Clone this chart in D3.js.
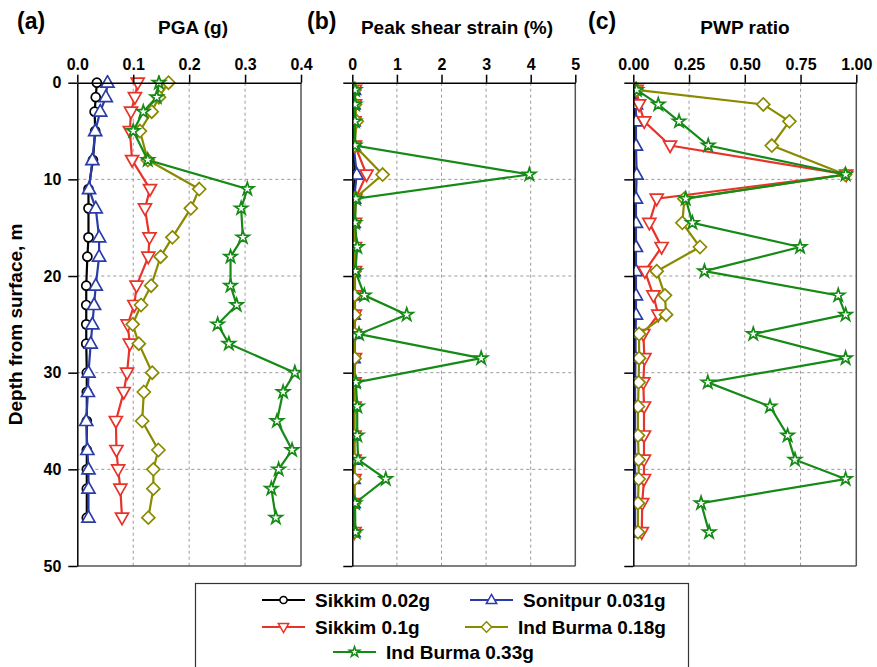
<!DOCTYPE html>
<html>
<head>
<meta charset="utf-8">
<script src="https://cdn.jsdelivr.net/npm/d3@7"></script>
<style>
body { margin: 0; background: #fff; }
text { font-family: "Liberation Sans", Arial, sans-serif; font-weight: bold; fill: #000; }
</style>
</head>
<body>
<svg id="chart" width="877" height="667"></svg>
<script>
// Depths (m): PGA at layer boundaries, strain / PWP at layer mid-points
const depthPGA = [0, 1.5, 3, 5, 8, 11, 13, 16, 18, 21, 23, 25, 27, 30, 32, 35, 38, 40, 42, 45];
const depthMid = [0.75, 2.25, 4, 6.5, 9.5, 12, 14.5, 17, 19.5, 22, 24, 26, 28.5, 31, 33.5, 36.5, 39, 41, 43.5, 46.5];

// PGA (g)
const pgaSikkim002  = [0.035, 0.033, 0.031, 0.032, 0.028, 0.020, 0.020, 0.020, 0.018, 0.016, 0.016, 0.016, 0.016, 0.017, 0.017, 0.017, 0.017, 0.017, 0.017, 0.017];
const pgaSonitpur   = [0.054, 0.051, 0.041, 0.032, 0.027, 0.021, 0.033, 0.039, 0.039, 0.033, 0.030, 0.027, 0.024, 0.020, 0.019, 0.016, 0.018, 0.020, 0.020, 0.020];
const pgaSikkim01   = [0.108, 0.103, 0.096, 0.094, 0.098, 0.130, 0.121, 0.129, 0.127, 0.106, 0.102, 0.090, 0.094, 0.089, 0.083, 0.069, 0.070, 0.073, 0.077, 0.080];
const pgaBurma018   = [0.163, 0.146, 0.133, 0.112, 0.126, 0.218, 0.203, 0.170, 0.149, 0.132, 0.114, 0.099, 0.110, 0.134, 0.119, 0.116, 0.145, 0.136, 0.136, 0.127];
const pgaBurma033   = [0.146, 0.142, 0.118, 0.100, 0.126, 0.304, 0.293, 0.296, 0.274, 0.274, 0.285, 0.251, 0.271, 0.389, 0.368, 0.357, 0.384, 0.360, 0.347, 0.355];

// Peak shear strain (%)
const strainSikkim002 = [0.02, 0.02, 0.02, 0.02, 0.06, 0.02, 0.02, 0.02, 0.02, 0.02, 0.02, 0.02, 0.02, 0.02, 0.02, 0.02, 0.02, 0.02, 0.02, 0.02];
const strainSonitpur  = [0.04, 0.03, 0.03, 0.03, 0.10, 0.04, 0.03, 0.03, 0.03, 0.03, 0.03, 0.03, 0.03, 0.03, 0.03, 0.03, 0.03, 0.03, 0.03, 0.03];
const strainSikkim01  = [0.06, 0.06, 0.05, 0.06, 0.32, 0.07, 0.06, 0.06, 0.06, 0.06, 0.06, 0.06, 0.06, 0.05, 0.05, 0.05, 0.05, 0.05, 0.05, 0.05];
const strainBurma018  = [0.05, 0.06, 0.10, 0.05, 0.68, 0.05, 0.04, 0.05, 0.05, 0.05, 0.05, 0.05, 0.05, 0.05, 0.04, 0.04, 0.04, 0.05, 0.04, 0.04];
const strainBurma033  = [0.06, 0.06, 0.06, 0.06, 3.97, 0.08, 0.06, 0.11, 0.07, 0.27, 1.22, 0.15, 2.89, 0.08, 0.11, 0.11, 0.13, 0.75, 0.06, 0.07];

// PWP ratio
const pwpSikkim002 = [0.003, 0.003, 0.003, 0.003, 0.005, 0.003, 0.003, 0.003, 0.003, 0.003, 0.003, 0.003, 0.003, 0.003, 0.003, 0.003, 0.003, 0.003, 0.003, 0.003];
const pwpSonitpur  = [0.010, 0.012, 0.012, 0.012, 0.015, 0.012, 0.012, 0.012, 0.012, 0.012, 0.012, 0.010, 0.010, 0.008, 0.008, 0.008, 0.008, 0.008, 0.008, 0.008];
const pwpSikkim01  = [0.015, 0.026, 0.049, 0.165, 0.955, 0.105, 0.072, 0.127, 0.052, 0.090, 0.112, 0.045, 0.050, 0.045, 0.048, 0.048, 0.048, 0.048, 0.040, 0.038];
const pwpBurma018  = [0.015, 0.583, 0.700, 0.621, 0.950, 0.229, 0.220, 0.299, 0.105, 0.142, 0.147, 0.026, 0.026, 0.024, 0.021, 0.021, 0.024, 0.024, 0.021, 0.021];
const pwpBurma033  = [0.015, 0.112, 0.205, 0.336, 0.952, 0.235, 0.265, 0.748, 0.319, 0.919, 0.952, 0.538, 0.952, 0.334, 0.613, 0.692, 0.725, 0.952, 0.304, 0.340];

const seriesNames = ["Sikkim 0.02g", "Sonitpur 0.031g", "Sikkim 0.1g", "Ind Burma 0.18g", "Ind Burma 0.33g"];

// Tick labels
const pgaTicks = [0, 0.1, 0.2, 0.3, 0.4];
const strainTicks = [0, 1, 2, 3, 4, 5];
const pwpTicks = [0, 0.25, 0.5, 0.75, 1];
const depthTicks = [0, 10, 20, 30, 40, 50];

// Styles
const colors = ["#000000", "#2a3ca8", "#e8332a", "#8a8a00", "#168a16"];
const symbols = ["circle", "triUp", "triDown", "diamond", "star"];

const svg = d3.select("#chart");
const top0 = 82.7, bottom0 = 566;

const yScale = d3.scaleLinear().domain([0, 50]).range([top0, bottom0]);

function markerPath(type, s) {
    s = s || 1;
    if (type === "circle") return d3.symbol(d3.symbolCircle, 64 * s * s)();
    if (type === "triUp") return `M0,${-7 * s}L${6.5 * s},${4.5 * s}L${-6.5 * s},${4.5 * s}Z`;
    if (type === "triDown") return `M0,${7 * s}L${6.5 * s},${-4.5 * s}L${-6.5 * s},${-4.5 * s}Z`;
    if (type === "diamond") return `M0,${-6.5 * s}L${6.5 * s},0L0,${6.5 * s}L${-6.5 * s},0Z`;
    return d3.symbol(d3.symbolStar, 52 * s * s)();
}

const panels = [
    {label: "(a)", labelX: 17, title: "PGA (g)", titleX: 193, x0: 77.3, x1: 301, domain: [0, 0.4],
     ticks: pgaTicks, fmt: d3.format(".1f"), depth: depthPGA,
     values: [pgaSikkim002, pgaSonitpur, pgaSikkim01, pgaBurma018, pgaBurma033], yLabels: true},
    {label: "(b)", labelX: 307, title: "Peak shear strain (%)", titleX: 457, x0: 352.3, x1: 575.3, domain: [0, 5],
     ticks: strainTicks, fmt: d3.format("d"), depth: depthMid,
     values: [strainSikkim002, strainSonitpur, strainSikkim01, strainBurma018, strainBurma033], yLabels: false},
    {label: "(c)", labelX: 588, title: "PWP ratio", titleX: 745, x0: 633.3, x1: 856.3, domain: [0, 1],
     ticks: pwpTicks, fmt: d3.format(".2f"), depth: depthMid,
     values: [pwpSikkim002, pwpSonitpur, pwpSikkim01, pwpBurma018, pwpBurma033], yLabels: false}
];

panels.forEach((p, pi) => {
    const x = d3.scaleLinear().domain(p.domain).range([p.x0, p.x1]);
    const g = svg.append("g");

    // Grid
    g.selectAll(".vgrid").data(p.ticks.slice(1, -1)).enter().append("line")
        .attr("x1", d => x(d)).attr("x2", d => x(d))
        .attr("y1", top0).attr("y2", bottom0)
        .attr("stroke", "#9a9a9a").attr("stroke-width", 1).attr("stroke-dasharray", "3,3");
    g.selectAll(".hgrid").data(depthTicks.slice(1, -1)).enter().append("line")
        .attr("x1", p.x0).attr("x2", p.x1)
        .attr("y1", d => yScale(d)).attr("y2", d => yScale(d))
        .attr("stroke", "#9a9a9a").attr("stroke-width", 1).attr("stroke-dasharray", "3,3");

    // Frame (right, bottom)
    g.append("line").attr("x1", p.x1).attr("x2", p.x1).attr("y1", top0).attr("y2", bottom0)
        .attr("stroke", "#555").attr("stroke-width", 1.5);
    g.append("line").attr("x1", p.x0).attr("x2", p.x1).attr("y1", bottom0).attr("y2", bottom0)
        .attr("stroke", "#555").attr("stroke-width", 1.5);

    // Clip
    svg.append("clipPath").attr("id", "clip" + pi).append("rect")
        .attr("x", p.x0).attr("y", top0 - 8).attr("width", p.x1 - p.x0).attr("height", bottom0 - top0 + 8);
    const plot = g.append("g").attr("clip-path", `url(#clip${pi})`);

    p.values.forEach((vals, si) => {
        const pts = vals.map((v, i) => [x(v), yScale(p.depth[i])]);
        plot.append("path")
            .attr("d", d3.line()(pts))
            .attr("fill", "none")
            .attr("stroke", colors[si])
            .attr("stroke-width", 2.2);
        plot.selectAll(".m" + si).data(pts).enter().append("path")
            .attr("transform", d => `translate(${d[0]},${d[1]})`)
            .attr("d", markerPath(symbols[si]))
            .attr("fill", "#fff")
            .attr("stroke", colors[si])
            .attr("stroke-width", 1.7);
    });

    // Axes
    const xAxis = g.append("g").attr("transform", `translate(0,${top0})`)
        .call(d3.axisTop(x).tickValues(p.ticks).tickFormat(p.fmt).tickSize(8).tickPadding(5).tickSizeOuter(0));
    const yAxis = g.append("g").attr("transform", `translate(${p.x0},0)`)
        .call(d3.axisLeft(yScale).tickValues(depthTicks).tickSize(9).tickPadding(7).tickSizeOuter(0)
            .tickFormat(p.yLabels ? d3.format("d") : ""));
    [xAxis, yAxis].forEach(a => {
        a.selectAll("path, line").attr("stroke", "#000").attr("stroke-width", 1.5);
        a.selectAll("text").style("font-size", "16px").style("font-family", "'Liberation Sans', Arial, sans-serif")
            .style("font-weight", "bold").attr("fill", "#000");
    });

    svg.append("text").attr("x", p.labelX).attr("y", 29).style("font-size", "23px").text(p.label);
    svg.append("text").attr("x", p.titleX).attr("y", 34).attr("text-anchor", "middle")
        .style("font-size", "19px").text(p.title);
});

// Y axis title
svg.append("text")
    .attr("transform", `translate(22,${(top0 + bottom0) / 2}) rotate(-90)`)
    .attr("text-anchor", "middle")
    .style("font-size", "19px")
    .text("Depth from surface, m");

// Legend
const legend = svg.append("g");
legend.append("rect").attr("x", 195.5).attr("y", 583.5).attr("width", 493).attr("height", 100)
    .attr("fill", "#fff").attr("stroke", "#333").attr("stroke-width", 1.2);

const legendPos = [[262, 600], [470, 600], [262, 627], [465, 627], [333, 652]];
seriesNames.forEach((name, i) => {
    const [lx, ly] = legendPos[i];
    const item = legend.append("g").attr("transform", `translate(${lx},${ly})`);
    item.append("line").attr("x1", 0).attr("x2", 43).attr("y1", 0).attr("y2", 0)
        .attr("stroke", colors[i]).attr("stroke-width", 2);
    item.append("path").attr("transform", "translate(21.5,0)")
        .attr("d", markerPath(symbols[i], 0.8))
        .attr("fill", "#fff").attr("stroke", colors[i]).attr("stroke-width", 1.5);
    item.append("text").attr("x", 53).attr("y", 0).attr("dy", "0.35em")
        .style("font-size", "19px").text(name);
});
</script>
</body>
</html>
